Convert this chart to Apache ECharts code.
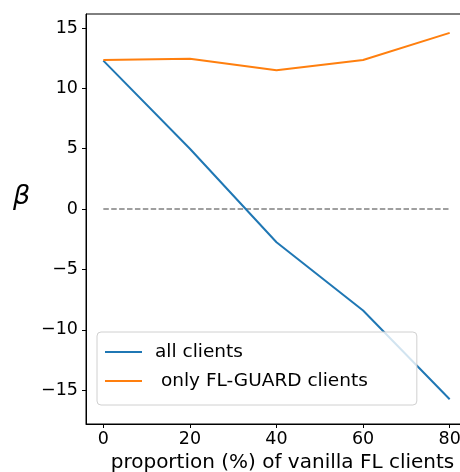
<!DOCTYPE html>
<html><head><meta charset="utf-8">
<script src="https://cdn.jsdelivr.net/npm/echarts@6/dist/echarts.min.js"></script>
<style>html,body{margin:0;padding:0;background:#fff}#c{width:460px;height:472px}</style>
</head><body><div id="c"></div>
<script>
const xValues = [0, 20, 40, 60, 80];
const allClients = [12.3, 5.0, -2.75, -8.4, -15.75];
const onlyGuard = [12.35, 12.45, 11.5, 12.35, 14.6];
const xTicks = [0, 20, 40, 60, 80];
const yTicks = [-15, -10, -5, 0, 5, 10, 15];
const seriesNames = ['all clients', ' only FL-GUARD clients'];

const font = 'DejaVu Sans';
const chart = echarts.init(document.getElementById('c'), null, {renderer: 'canvas'});
const pair = (ys) => xValues.map((x, i) => [x, ys[i]]);
chart.setOption({
  animation: false,
  backgroundColor: '#fff',
  grid: {left: 86, top: 14, width: 381, height: 410, show: true, borderColor: '#000', borderWidth: 1, outerBoundsMode: 'none', containLabel: false},
  xAxis: {
    type: 'value', min: -4, max: 84,
    name: 'proportion (%) of vanilla FL clients', nameLocation: 'middle', nameGap: 27,
    nameTextStyle: {fontFamily: font, fontSize: 20, color: '#000', padding: [0, 0, 0, 12]},
    splitLine: {show: false},
    axisLine: {show: true, onZero: false, lineStyle: {color: '#000', width: 1}},
    axisTick: {show: true, length: 4, customValues: xTicks, lineStyle: {color: '#000'}},
    axisLabel: {customValues: xTicks, fontFamily: font, fontSize: 17.5, color: '#000', margin: 6, hideOverlap: false}
  },
  yAxis: {
    type: 'value', min: -17.8, max: 16.16,
    splitLine: {show: false},
    axisLine: {show: true, onZero: false, lineStyle: {color: '#000', width: 1}},
    axisTick: {show: true, length: 4, customValues: yTicks, lineStyle: {color: '#000'}},
    axisLabel: {customValues: yTicks, fontFamily: font, fontSize: 17.5, color: '#000', margin: 8,
      formatter: v => String(v).replace('-', '\u2212')}
  },
  legend: {
    data: seriesNames, orient: 'vertical', left: 97, top: 332,
    backgroundColor: 'rgba(255,255,255,0.8)', borderColor: '#d0d0d0', borderWidth: 1, borderRadius: 4,
    padding: [10.5, 49, 14.5, 8], itemGap: 10, itemWidth: 37, itemHeight: 2, icon: 'rect',
    textStyle: {fontFamily: font, fontSize: 18.5, color: '#000', padding: [0, 0, 0, 8]}
  },
  series: [
    {name: seriesNames[0], type: 'line', data: pair(allClients), symbol: 'none', lineStyle: {color: '#1f77b4', width: 2}, itemStyle: {color: '#1f77b4'}, z: 3},
    {name: seriesNames[1], type: 'line', data: pair(onlyGuard), symbol: 'none', lineStyle: {color: '#ff7f0e', width: 2}, itemStyle: {color: '#ff7f0e'}, z: 3},
    {name: 'zero', type: 'line', data: [[0, 0], [80, 0]], symbol: 'none', lineStyle: {color: '#808080', width: 1.5, type: [5.5, 2.4]}, z: 2}
  ],
  graphic: [{type: 'text', left: 13, top: 183, style: {text: 'β', font: 'italic 27px "DejaVu Sans"', fill: '#000'}}]
});
</script></body></html>
